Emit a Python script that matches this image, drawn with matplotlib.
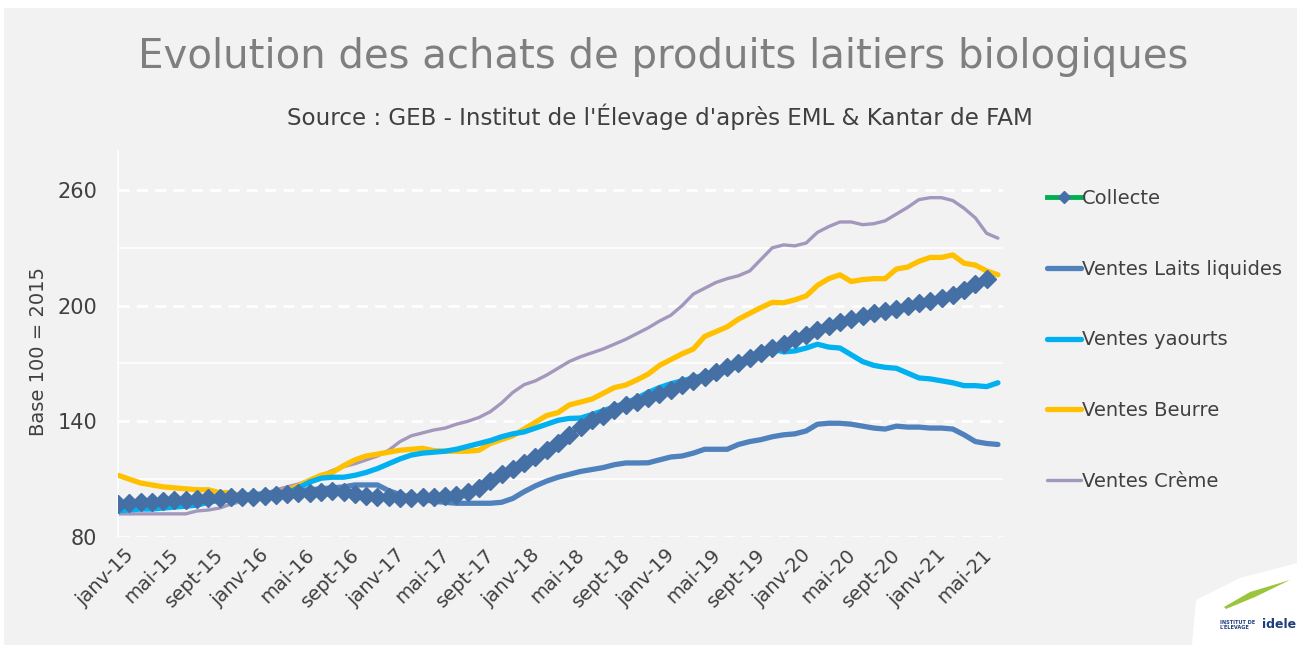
import matplotlib
matplotlib.use("Agg")
import matplotlib.pyplot as plt
from matplotlib.patches import Rectangle, Polygon
from matplotlib.transforms import ScaledTranslation

# ---------------- data ----------------
month_names = ["janv", "févr", "mars", "avr", "mai", "juin",
               "juil", "août", "sept", "oct", "nov", "déc"]
months = [f"{month_names[i % 12]}-{15 + i // 12}" for i in range(79)]
tick_labels = [m if i % 4 == 0 else "" for i, m in enumerate(months)]

collecte = [97, 97.5, 98, 98, 98.5, 99, 99, 99.5, 100, 100, 100.5, 101,
            101, 101.5, 102, 102.5, 103, 103, 103.5, 104, 103.5, 102.5, 101.5, 101,
            100.5, 100, 100, 100.5, 101, 101.5, 102, 103.5, 105.5, 109, 112.5, 115.5,
            118.5, 121.5, 125, 128.5, 133, 137, 140.5, 143, 146, 148.5, 150, 152,
            154, 156.5, 159, 161, 163, 165.5, 168, 170.5, 173, 175.5, 178, 180,
            182.5, 185, 187.5, 189.5, 191.5, 193, 194.5, 196, 197, 198.5, 200, 201.5,
            202.5, 204, 205.5, 208, 211, 214]

laits = [97, 97, 97.5, 98, 98, 98.5, 99, 99.5, 100, 100.5, 101, 101.5,
         102, 102.5, 103, 103.5, 104, 104.5, 105, 105.5, 106, 107, 107, 107,
         104, 102, 100.5, 99.5, 98.5, 98, 97.5, 97.5, 97.5, 97.5, 98, 100,
         103.5, 106.5, 109, 111, 112.5, 114, 115, 116, 117.5, 118.4, 118.4, 118.5,
         120, 121.5, 122, 123.5, 125.5, 125.5, 125.5, 128, 129.5, 130.5, 132, 133,
         133.5, 135, 138.5, 139, 139, 138.5, 137.5, 136.5, 136, 137.5, 137, 137,
         136.5, 136.5, 136, 133, 129.5, 128.5, 128]

yaourts = [93.5, 94, 94.5, 94.5, 95, 95.5, 96, 96.5, 98, 99, 99, 99.5,
           100, 100.5, 101, 103, 105.5, 108.5, 110.5, 111, 111, 112, 113.5, 115.5,
           118, 120.5, 122.5, 123.5, 124, 124.5, 125.5, 127, 128.5, 130, 132, 133.5,
           134.5, 136.5, 138.5, 140.5, 141.5, 141.7, 143.5, 145.5, 147.5, 149.5, 152, 155,
           157.5, 159.5, 161, 162.5, 164, 166, 168, 170.5, 173, 175.5, 177.5, 176,
           176.5, 178, 180, 178.5, 178, 174.5, 171, 169, 168, 167.5, 165, 162.5,
           162, 161, 160, 158.5, 158.5, 158, 160]

beurre = [112, 110, 108, 107, 106, 105.5, 105, 104.5, 104.5, 103, 103, 101,
          100.5, 101, 102.5, 104.5, 106.5, 109.5, 112, 113.5, 117, 120, 122, 123,
          124, 125, 125.5, 126, 124.8, 124.5, 124.5, 124.5, 125, 128.5, 130.5, 132.5,
          136, 139.5, 143, 144.5, 148.5, 150, 151.5, 154.5, 157.5, 158.8, 161.5, 164.5,
          169, 172, 175, 177.5, 184, 186.5, 189, 193, 196, 199, 201.7, 201.5,
          203, 205, 210.5, 214, 216, 212.5, 213.5, 214, 214, 219, 220, 223,
          225, 225, 226.3, 222, 221, 218, 216]

creme = [92, 92, 92, 92, 92, 92, 92, 93.5, 94, 95, 97, 98.5,
         100, 102.5, 104.5, 106, 107.5, 109.5, 112, 114.5, 116.5, 118, 120, 122,
         125, 129.5, 132.5, 134, 135.5, 136.5, 138.5, 140, 142, 145, 149.5, 155,
         159, 161, 164, 167.5, 171, 173.5, 175.5, 177.5, 180, 182.5, 185.5, 188.5,
         192, 195, 200, 206, 209, 212, 214, 215.5, 218, 224, 230, 231.5,
         231, 232.5, 238, 241, 243.4, 243.4, 242, 242.5, 244, 247.5, 251, 255,
         256, 256, 254.5, 250.5, 245.5, 237.5, 235]

series_names = ["Collecte", "Ventes Laits liquides", "Ventes yaourts",
                "Ventes Beurre", "Ventes Crème"]
yticks = [80, 140, 200, 260]
minor_grid = [110, 170, 230]

title = "Evolution des achats de produits laitiers biologiques"
subtitle = "Source : GEB - Institut de l'Élevage d'après EML & Kantar de FAM"
ylabel = "Base 100 = 2015"

# ---------------- figure ----------------
plt.rcParams['font.family'] = ['DejaVu Sans']
W, H = 1301, 645
fig = plt.figure(figsize=(W / 100, H / 100), dpi=100, facecolor="white")
fig.patches.append(Rectangle((4 / W, 0), (1297 - 4) / W, (H - 8) / H,
                             transform=fig.transFigure, facecolor="#F2F2F2",
                             edgecolor="none", zorder=-10))

ax = fig.add_axes([118 / W, (H - 537) / H, 885 / W, (537 - 151.4) / H])
ax.patch.set_alpha(0)

x = list(range(len(months)))
xc = x[:len(collecte)]

ax.plot(xc, collecte, color="#00B050", lw=2.5, marker="D", markersize=9,
        markerfacecolor="#4570A6", markeredgecolor="#4570A6", zorder=6,
        label=series_names[0])
ax.plot(x, laits, color="#4F81BD", lw=3.8, solid_capstyle="round", zorder=4,
        label=series_names[1])
ax.plot(x, yaourts, color="#00B0F0", lw=3.8, solid_capstyle="round", zorder=5,
        label=series_names[2])
ax.plot(x, beurre, color="#FFC000", lw=3.8, solid_capstyle="round", zorder=3,
        label=series_names[3])
ax.plot(x, creme, color="#A497BD", lw=2.4, solid_capstyle="round", zorder=2,
        label=series_names[4])

ax.set_xlim(0, 78.45)
ax.set_ylim(80, 280)

# grid lines
for v in yticks:
    ax.axhline(v, color="white", lw=2.0, ls=(0, (4, 2.6)), zorder=1)
for v in minor_grid:
    ax.axhline(v, color="white", lw=1.2, zorder=1)

ax.set_yticks(yticks)
ax.set_yticklabels([str(v) for v in yticks], fontsize=15, color="#404040")
ax.tick_params(axis="y", length=0, pad=15)

ax.set_xticks(x)
ax.set_xticklabels(tick_labels, rotation=45, ha="right", rotation_mode="anchor",
                   fontsize=14, color="#404040")
ax.tick_params(axis="x", length=0, pad=6)
offset = ScaledTranslation(6 / 100, 0, fig.dpi_scale_trans)
for lbl in ax.get_xticklabels():
    lbl.set_transform(lbl.get_transform() + offset)

for s in ["top", "right", "bottom"]:
    ax.spines[s].set_visible(False)
ax.spines["left"].set_color("white")
ax.spines["left"].set_linewidth(1.2)

ax.set_ylabel(ylabel, fontsize=14, color="#404040")
ax.yaxis.set_label_coords(-70 / 885, 0.48)

fig.text(663 / W, 1 - 57 / H, title, ha="center", va="center",
         fontsize=29, color="#7F7F7F")
fig.text(660 / W, 1 - 117 / H, subtitle, ha="center", va="center",
         fontsize=16.6, color="#404040")

leg = ax.legend(loc="upper left", bbox_to_anchor=(1047 / W, 1 - 189 / H),
                bbox_transform=fig.transFigure, frameon=False, fontsize=14,
                handlelength=1.75, handletextpad=0.05, labelspacing=2.66,
                borderaxespad=0, borderpad=0)
for t in leg.get_texts():
    t.set_color("#404040")
for h in leg.legend_handles:
    h.set_linewidth(3.8 if h.get_label() != series_names[4] else 2.4)
leg.legend_handles[0].set_markersize(6.5)
leg.legend_handles[0].set_linewidth(3.5)

# logo area
fig.patches.append(Polygon([(1192 / W, 0), (1196 / W, 1 - 600 / H),
                            (1240 / W, 1 - 578 / H), (1301 / W, 1 - 562 / H),
                            (1301 / W, 0)],
                           closed=True, transform=fig.transFigure,
                           facecolor="white", edgecolor="none", zorder=-5))
fig.patches.append(Polygon([(1224 / W, 1 - 607 / H), (1250 / W, 1 - 592 / H),
                            (1290 / W, 1 - 580 / H), (1255 / W, 1 - 597 / H),
                            (1226 / W, 1 - 609 / H)],
                           closed=True, transform=fig.transFigure,
                           facecolor="#9BC53D", edgecolor="none", zorder=-4))
fig.text(1220 / W, 1 - 625 / H, "INSTITUT DE\nL'ÉLEVAGE", fontsize=3.6,
         color="#1F3E7C", fontweight="bold", ha="left", va="center",
         linespacing=0.9)
fig.text(1262 / W, 1 - 624 / H, "idele", fontsize=9, color="#1F3E7C",
         fontweight="bold", ha="left", va="center")

fig.savefig("out.png", dpi=100, facecolor="white")
